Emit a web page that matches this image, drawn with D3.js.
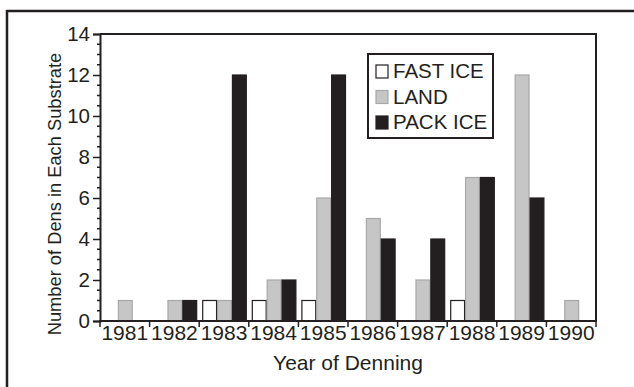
<!DOCTYPE html>
<html><head><meta charset="utf-8">
<script src="https://cdn.jsdelivr.net/npm/d3@7"></script>
<style>body{margin:0;background:#fff}svg{display:block}text{font-family:"Liberation Sans",Arial,sans-serif;fill:#231f20}</style>
</head><body><svg id="c" width="634" height="387"></svg>
<script>
const years = ["1981","1982","1983","1984","1985","1986","1987","1988","1989","1990"];
const seriesNames = ["FAST ICE","LAND","PACK ICE"];
const fastIce = [0,0,1,1,1,0,0,1,0,0];
const land    = [1,1,1,2,6,5,2,7,12,1];
const packIce = [0,1,12,2,12,4,4,7,6,0];
const yTicks = [0,2,4,6,8,10,12,14];

const fills = ["#ffffff","#c6c6c6","#231f20"];
const strokes = ["#231f20","#a8a8a8","#231f20"];
const series = [fastIce, land, packIce];

const svg = d3.select("#c");
const L=100, R=596, T=34, B=321;
svg.append("path").attr("d","M7,387 L7,11 L634,11").attr("fill","none").attr("stroke","#231f20").attr("stroke-width",2.5);

const x = d3.scaleBand().domain(years).range([L,R]).paddingInner(0).paddingOuter(0);
const x1 = d3.scaleBand().domain(seriesNames).range([3, x.bandwidth()-2]).padding(0);
const y = d3.scaleLinear().domain([0,14]).range([B,T]);

years.forEach((yr,i)=>{
  series.forEach((s,j)=>{
    if(s[i]>0){
      svg.append("rect")
        .attr("x", x(yr)+x1(seriesNames[j])+0.5)
        .attr("y", y(s[i]))
        .attr("width", x1.bandwidth()-1)
        .attr("height", y(0)-y(s[i]))
        .attr("fill", fills[j]).attr("stroke", strokes[j]).attr("stroke-width",1.2);
    }
  });
});

svg.append("path").attr("d",`M${L},${T} L${R},${T} L${R},${B}`).attr("fill","none").attr("stroke","#231f20").attr("stroke-width",2);

const ya = d3.axisLeft(y).tickValues(yTicks).tickSize(7).tickPadding(3).tickFormat(d3.format("d"));
const gy = svg.append("g").attr("transform",`translate(${L},0)`).call(ya);
gy.attr("font-size",null).attr("font-family",null);
gy.select(".domain").attr("stroke","#231f20").attr("stroke-width",2);
gy.selectAll(".tick line").attr("stroke","#231f20").attr("stroke-width",1.5);
gy.selectAll(".tick text").attr("font-size","20.5px").attr("fill","#231f20");
const minor = d3.range(0,14.01,0.5).filter(v=>v%2!==0);
gy.selectAll(".minor").data(minor).join("line").attr("class","minor")
  .attr("x1",-3).attr("x2",0).attr("y1",d=>y(d)).attr("y2",d=>y(d))
  .attr("stroke","#231f20").attr("stroke-width",1.5);

const xa = d3.axisBottom(x).tickSize(0).tickPadding(4);
const gx = svg.append("g").attr("transform",`translate(0,${B})`).call(xa);
gx.attr("font-size",null).attr("font-family",null);
gx.select(".domain").remove();
gx.append("line").attr("x1",L-1).attr("x2",R+1).attr("y1",0).attr("y2",0).attr("stroke","#231f20").attr("stroke-width",2);
gx.selectAll(".tick text").attr("font-size","21px").attr("fill","#231f20").attr("dy","0.72em");
const bounds = years.map(d=>x(d)).concat([R]);
gx.selectAll(".bt").data(bounds).join("line").attr("class","bt")
  .attr("x1",d=>d).attr("x2",d=>d).attr("y1",0).attr("y2",6)
  .attr("stroke","#231f20").attr("stroke-width",1.5);

svg.append("text").attr("x",(L+R)/2).attr("y",370).attr("text-anchor","middle").attr("font-size","21px").text("Year of Denning");
svg.append("text").attr("transform","translate(61,194) rotate(-90)").attr("text-anchor","middle").attr("font-size","18.3px").text("Number of Dens in Each Substrate");

const lg = svg.append("g");
lg.append("rect").attr("x",368).attr("y",54).attr("width",125).attr("height",84).attr("fill","#fff").attr("stroke","#231f20").attr("stroke-width",2);
seriesNames.forEach((n,j)=>{
  const cy = 71 + j*25.5;
  lg.append("rect").attr("x",376).attr("y",cy-6).attr("width",12).attr("height",13)
    .attr("fill",fills[j]).attr("stroke",strokes[j]).attr("stroke-width",1.2);
  lg.append("text").attr("x",393).attr("y",cy).attr("dy","0.36em").attr("font-size","20.5px").text(n);
});
</script></body></html>
